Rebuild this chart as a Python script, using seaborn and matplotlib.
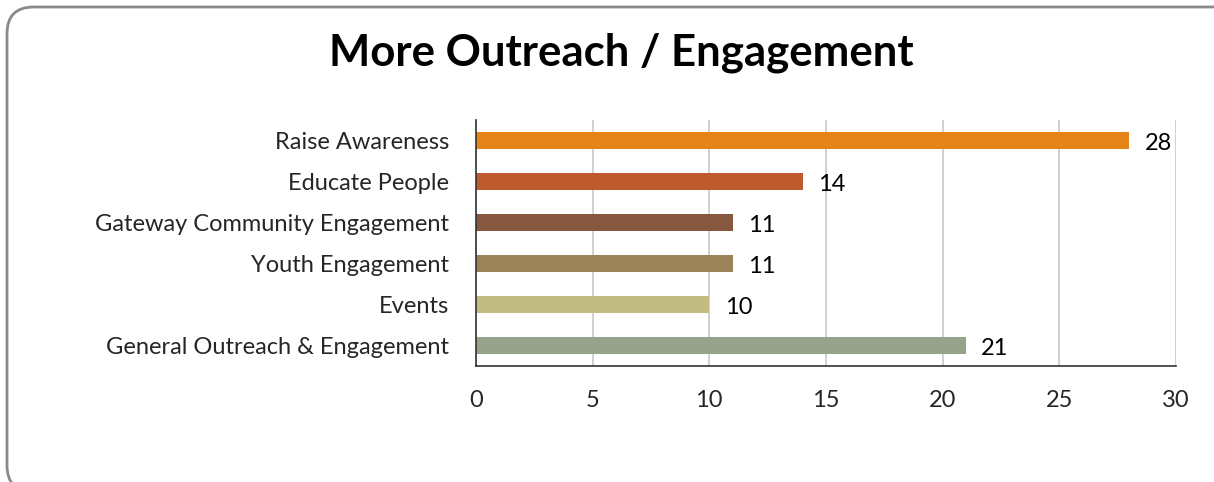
import matplotlib
matplotlib.use("Agg")
import matplotlib.pyplot as plt
from matplotlib.patches import FancyBboxPatch
import seaborn as sns
import pandas as pd

categories = [
    "Raise Awareness",
    "Educate People",
    "Gateway Community Engagement",
    "Youth Engagement",
    "Events",
    "General Outreach & Engagement",
]
counts = [28, 14, 11, 11, 10, 21]
bar_colors = ["#E6841A", "#BE5A2D", "#87573F", "#9B8357", "#C2BC82", "#96A28A"]
x_ticks = [0, 5, 10, 15, 20, 25, 30]

sns.set_theme(style="white")
plt.rcParams["font.family"] = ["Lato", "DejaVu Sans"]

df = pd.DataFrame({"category": categories, "count": counts})

fig = plt.figure(figsize=(12.14, 4.82), dpi=100)
ax = fig.add_axes([0.392, 0.2407, 0.5767, 0.5103])

sns.barplot(
    data=df, y="category", x="count", hue="category",
    palette=bar_colors, order=categories, hue_order=categories,
    width=0.41, legend=False, ax=ax, saturation=1, linewidth=0,
)

# value labels sit just right of each bar, nudged slightly downward
for container in ax.containers:
    labels = ax.bar_label(container, padding=11, fontsize=17, color="black")
    for t in labels:
        dx, dy = t.xyann
        t.xyann = (dx, dy - 2.5)

ax.set_xlim(0, 30)
ax.set_ylim(5.5, -0.5)
ax.set_xticks(x_ticks)
ax.set_xticklabels([str(t) for t in x_ticks], fontsize=17)
ax.tick_params(axis="y", labelsize=17, length=0, pad=19)
ax.tick_params(axis="x", length=0, pad=17)
ax.set_xlabel("")
ax.set_ylabel("")

ax.grid(axis="x", color="#C8C8C8", linewidth=1.2)
ax.grid(axis="y", visible=False)
ax.set_axisbelow(True)
for side in ["top", "right"]:
    ax.spines[side].set_visible(False)
for side in ["left", "bottom"]:
    ax.spines[side].set_color("#333333")
    ax.spines[side].set_linewidth(1.2)

fig.text(0.512, 0.89, "More Outreach / Engagement", ha="center", va="center",
         fontsize=31.5, fontweight="bold", color="black")

frame = FancyBboxPatch(
    (7 / 1214, -10 / 482), 1.2, 1 + 3 / 482,
    boxstyle="round,pad=0,rounding_size=0.022",
    transform=fig.transFigure, facecolor="none",
    edgecolor="#8A8A8A", linewidth=2, zorder=10, mutation_aspect=1214 / 482,
)
fig.patches.append(frame)

fig.savefig("out.png", dpi=100, facecolor="white")
